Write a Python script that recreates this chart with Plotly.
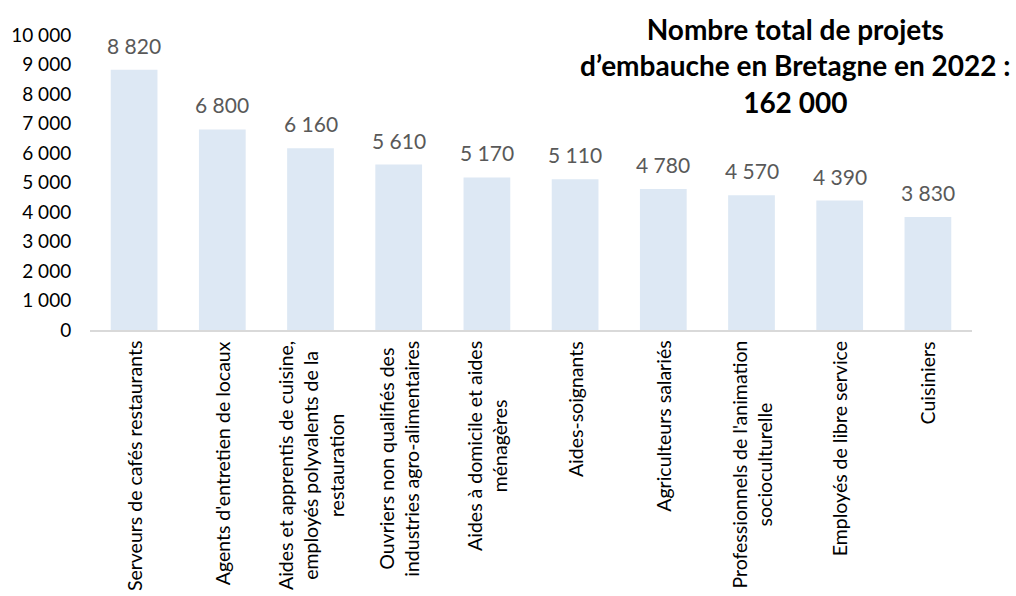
import plotly.graph_objects as go

# Hiring projects by occupation (Bretagne, 2022)
metiers = [
    "Serveurs de cafés restaurants",
    "Agents d'entretien de locaux",
    "Aides et apprentis de cuisine,<br>employés polyvalents de la<br>restauration",
    "Ouvriers non qualifiés des<br>industries agro-alimentaires",
    "Aides à domicile et aides<br>ménagères",
    "Aides-soignants",
    "Agriculteurs salariés",
    "Professionnels de l'animation<br>socioculturelle",
    "Employés de libre service",
    "Cuisiniers",
]
projets = [8820, 6800, 6160, 5610, 5170, 5110, 4780, 4570, 4390, 3830]
y_ticks = list(range(0, 10001, 1000))

FONT = "Lato"
BAR_COLOR = "#DDE8F4"

fig = go.Figure()
fig.add_trace(go.Bar(
    x=list(range(len(metiers))),
    y=projets,
    marker=dict(color=BAR_COLOR, line=dict(width=0)),
    hoverinfo="skip",
))


def fmt(v):
    return f"{v:,}".replace(",", " ")


annotations = []
# value labels above each bar
for i, v in enumerate(projets):
    annotations.append(dict(
        x=i, y=v, xref="x", yref="y", text=fmt(v), showarrow=False,
        xanchor="center", yanchor="bottom", yshift=10,
        font=dict(family=FONT, size=21, color="#595959"),
    ))
# rotated category labels below the axis
for i, m in enumerate(metiers):
    annotations.append(dict(
        x=i, y=0, xref="x", yref="paper", text=m, showarrow=False,
        textangle=-90, align="center", xanchor="center", yanchor="top",
        yshift=-9,
        font=dict(family=FONT, size=19.5, color="#000000"),
    ))
# headline
annotations.append(dict(
    x=0.80, y=1.085, xref="paper", yref="paper",
    text="<b>Nombre total de projets<br>d’embauche en Bretagne en 2022 :<br>162 000</b>",
    showarrow=False, align="center", xanchor="center", yanchor="top",
    font=dict(family=FONT, size=28, color="#000000"),
))

fig.update_layout(
    width=1016, height=596,
    margin=dict(l=90, r=44, t=35, b=266),
    paper_bgcolor="white", plot_bgcolor="white",
    bargap=0.47,
    showlegend=False,
    separators=", ",
    annotations=annotations,
    xaxis=dict(
        range=[-0.5, len(metiers) - 0.5],
        showticklabels=False, ticks="", showgrid=False, zeroline=False,
        showline=True, linecolor="#D9D9D9", linewidth=1.5,
    ),
    yaxis=dict(
        range=[0, 10000], tickvals=y_ticks,
        ticktext=[fmt(t) for t in y_ticks],
        showgrid=False, zeroline=False, showline=False,
        ticks="outside", ticklen=14, tickcolor="rgba(0,0,0,0)",
        tickfont=dict(family=FONT, size=19, color="#000000"),
    ),
)

fig.write_html("out.html")
